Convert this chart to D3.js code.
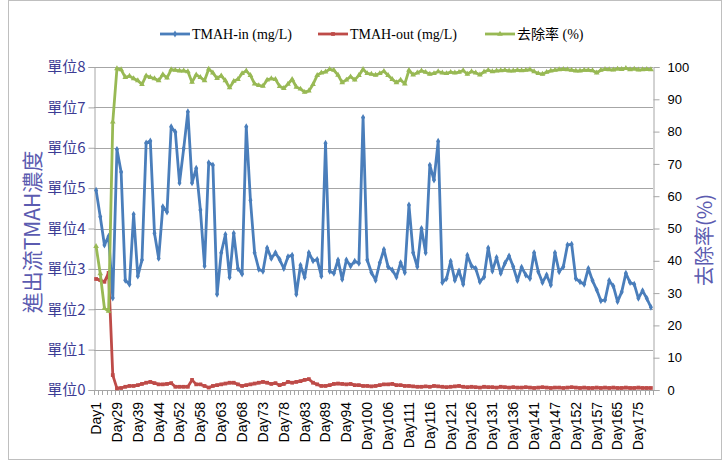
<!DOCTYPE html>
<html>
<head>
<meta charset="utf-8">
<script src="https://cdn.jsdelivr.net/npm/d3@7"></script>
<style>
  body { margin: 0; background: #fff; }
</style>
</head>
<body>
<div id="chart"></div>
<script>
const width = 722;
const height = 460;
const margin = { top: 67, right: 69, bottom: 70, left: 94 };

// day numbers for each sample (only every 5th is labelled on the axis)
const dayNums = [
  1, 7, 14, 21, 27, 29, 31, 33, 35, 37, 39, 40, 41, 42, 43, 44, 46, 48, 49, 50,
  52, 53, 55, 56, 57, 58, 59, 60, 61, 62, 63, 64, 65, 66, 67, 68, 69, 70, 71, 72,
  73, 74, 75, 76, 77, 78, 79, 80, 81, 82, 83, 84, 86, 87, 88, 89, 90, 91, 92, 93,
  94, 95, 97, 98, 99, 100, 101, 102, 104, 105, 106, 107, 108, 109, 110, 111, 112, 113, 114, 115,
  116, 117, 118, 119, 120, 121, 122, 123, 124, 125, 126, 127, 128, 129, 130, 131, 132, 133, 134, 135,
  136, 137, 138, 139, 140, 141, 142, 144, 145, 146, 147, 148, 149, 150, 151, 152, 153, 154, 155, 156,
  157, 159, 161, 162, 164, 165, 167, 169, 171, 173, 175, 176, 177, 178
];
const days = dayNums.map(d => "Day" + d);

// TMAH-in (mg/L)
const tmahIn = [
  4.95, 4.29, 3.59, 3.81, 2.28, 5.96, 5.40, 2.72, 2.62, 4.35, 2.82, 3.22, 6.12, 6.17, 3.88, 3.26, 4.54, 4.41, 6.52, 6.39,
  5.13, 5.98, 6.89, 5.13, 5.49, 4.46, 3.07, 5.63, 5.57, 2.37, 3.40, 3.85, 2.79, 3.88, 3.01, 2.87, 6.52, 4.70, 3.40, 2.99,
  2.94, 3.52, 3.26, 3.40, 3.23, 3.01, 3.30, 3.34, 2.37, 3.09, 2.79, 3.40, 3.20, 3.23, 2.82, 6.11, 2.94, 2.89, 3.22, 2.74,
  3.22, 3.07, 3.19, 3.14, 6.75, 3.22, 2.91, 2.72, 3.15, 3.48, 3.05, 2.97, 2.80, 3.15, 2.91, 4.58, 3.40, 3.05, 4.00, 3.40,
  5.57, 5.20, 6.16, 2.66, 2.76, 3.19, 2.72, 2.95, 2.62, 3.34, 3.07, 3.01, 2.68, 2.80, 3.52, 2.95, 3.28, 2.89, 3.14, 3.32,
  3.05, 2.71, 3.04, 2.85, 2.76, 3.40, 2.93, 2.66, 2.85, 2.60, 3.40, 2.93, 3.05, 3.59, 3.61, 2.76, 2.68, 2.62, 3.01, 2.71,
  2.48, 2.21, 2.23, 2.71, 2.57, 2.19, 2.43, 2.89, 2.66, 2.62, 2.27, 2.46, 2.27, 2.05
];

// TMAH-out (mg/L)
const tmahOut = [
  2.75, 2.72, 2.68, 2.90, 0.37, 0.04, 0.05, 0.08, 0.10, 0.10, 0.12, 0.15, 0.18, 0.20, 0.17, 0.14, 0.14, 0.15, 0.17, 0.08,
  0.08, 0.08, 0.08, 0.25, 0.14, 0.14, 0.10, 0.06, 0.10, 0.12, 0.14, 0.16, 0.18, 0.18, 0.14, 0.10, 0.12, 0.14, 0.16, 0.18,
  0.20, 0.18, 0.15, 0.17, 0.12, 0.15, 0.20, 0.18, 0.20, 0.22, 0.25, 0.27, 0.18, 0.14, 0.10, 0.10, 0.12, 0.15, 0.16, 0.15,
  0.14, 0.15, 0.12, 0.12, 0.10, 0.10, 0.09, 0.10, 0.12, 0.14, 0.14, 0.15, 0.12, 0.12, 0.10, 0.10, 0.09, 0.08, 0.08, 0.09,
  0.08, 0.10, 0.09, 0.08, 0.07, 0.08, 0.09, 0.10, 0.08, 0.07, 0.08, 0.07, 0.06, 0.08, 0.07, 0.07, 0.06, 0.08, 0.07, 0.06,
  0.07, 0.06, 0.06, 0.07, 0.06, 0.05, 0.06, 0.07, 0.06, 0.05, 0.06, 0.06, 0.05, 0.06, 0.07, 0.06, 0.05, 0.06, 0.05, 0.05,
  0.06, 0.05, 0.06, 0.05, 0.06, 0.05, 0.05, 0.06, 0.05, 0.05, 0.06, 0.05, 0.05, 0.05
];

// 去除率 (%)
const removal = [
  44.5, 36.0, 25.3, 24.4, 83.0, 99.5, 99.2, 96.8, 97.2, 96.4, 95.8, 94.6, 97.3, 96.8, 96.4, 95.8, 97.7, 96.6, 99.2, 99.0,
  98.8, 98.8, 98.6, 95.3, 97.6, 96.8, 95.8, 99.4, 98.2, 96.5, 97.3, 95.8, 93.6, 95.6, 96.2, 98.0, 98.8, 97.4, 94.8, 94.3,
  94.1, 96.0, 96.4, 96.2, 94.0, 93.4, 94.7, 96.2, 93.8, 93.2, 92.2, 92.6, 94.6, 97.4, 98.2, 98.5, 99.3, 99.0, 97.5, 95.2,
  96.0, 97.0, 96.0, 97.4, 99.3, 98.0, 97.8, 97.5, 98.0, 98.7, 97.4, 96.2, 95.2, 96.0, 94.8, 99.0, 97.6, 98.2, 98.8, 98.4,
  97.8, 98.0, 98.6, 98.2, 98.0, 98.4, 98.2, 98.4, 98.9, 97.8, 98.6, 98.2, 97.6, 98.5, 99.0, 98.6, 98.8, 98.9, 99.0, 98.8,
  98.8, 99.0, 98.9, 99.0, 99.2, 98.6, 98.0, 97.8, 98.4, 98.8, 99.0, 99.2, 99.3, 99.2, 99.0, 98.8, 98.8, 99.0, 99.0, 98.9,
  98.2, 99.0, 99.3, 99.2, 99.1, 99.4, 99.3, 99.6, 99.2, 99.4, 99.1, 99.2, 99.3, 99.2
];

const leftTicks = [0, 1, 2, 3, 4, 5, 6, 7, 8];
const rightTicks = [0, 10, 20, 30, 40, 50, 60, 70, 80, 90, 100];

const colors = { in: "#4a7ebb", out: "#be4b48", rate: "#98b954" };

const svg = d3.select("#chart").append("svg")
  .attr("width", width)
  .attr("height", height);

svg.append("rect")
  .attr("x", 8.5).attr("y", 0.5)
  .attr("width", width - 9).attr("height", height - 1)
  .attr("fill", "#fff")
  .attr("stroke", "#bfbfbf");

const x = d3.scaleBand()
  .domain(days)
  .range([margin.left, width - margin.right])
  .padding(0);

const yL = d3.scaleLinear().domain([0, 8]).range([height - margin.bottom, margin.top]);
const yR = d3.scaleLinear().domain([0, 100]).range([height - margin.bottom, margin.top]);
const cx = d => x(d) + x.bandwidth() / 2;

// gridlines
svg.append("g")
  .selectAll("line")
  .data(leftTicks.slice(1))
  .join("line")
  .attr("x1", margin.left).attr("x2", width - margin.right)
  .attr("y1", d => Math.round(yL(d)) + 0.5).attr("y2", d => Math.round(yL(d)) + 0.5)
  .attr("stroke", "#a6a6a6");

// left axis
const gL = svg.append("g")
  .attr("transform", `translate(${margin.left + 0.5},0)`)
  .call(d3.axisLeft(yL).tickValues(leftTicks).tickFormat(d => "單位" + d).tickSize(6).tickPadding(3));
gL.select(".domain").attr("stroke", "#a6a6a6");
gL.selectAll(".tick line").attr("stroke", "#a6a6a6");
gL.selectAll(".tick text")
  .attr("fill", "#3c3c94")
  .style("font-family", "'Noto Sans CJK TC', sans-serif")
  .style("font-size", "15px");

// right axis
const gR = svg.append("g")
  .attr("transform", `translate(${width - margin.right + 0.5},0)`)
  .call(d3.axisRight(yR).tickValues(rightTicks).tickSize(6).tickPadding(8));
gR.select(".domain").attr("stroke", "#a6a6a6");
gR.selectAll(".tick line").attr("stroke", "#a6a6a6");
gR.selectAll(".tick text")
  .attr("fill", "#000")
  .style("font-family", "'Liberation Sans', Arial, sans-serif")
  .style("font-size", "13px");

// x axis: ticks between categories, labels on every 5th
const xBase = height - margin.bottom;
svg.append("g")
  .selectAll("line")
  .data(days.concat([null]))
  .join("line")
  .attr("x1", d => Math.round(d === null ? width - margin.right : x(d)) + 0.5)
  .attr("x2", d => Math.round(d === null ? width - margin.right : x(d)) + 0.5)
  .attr("y1", xBase).attr("y2", xBase + 5)
  .attr("stroke", "#a6a6a6");
svg.append("line")
  .attr("x1", margin.left).attr("x2", width - margin.right)
  .attr("y1", xBase + 0.5).attr("y2", xBase + 0.5)
  .attr("stroke", "#a6a6a6");

const gX = svg.append("g")
  .attr("transform", `translate(0,${xBase})`)
  .call(d3.axisBottom(x).tickValues(days.filter((d, i) => i % 5 === 0)).tickSize(0).tickPadding(0));
gX.select(".domain").remove();
gX.selectAll(".tick text")
  .attr("transform", "rotate(-90)")
  .attr("x", -12)
  .attr("y", 0)
  .attr("dy", "0.35em")
  .attr("text-anchor", "end")
  .attr("fill", "#000")
  .style("font-family", "'Liberation Sans', Arial, sans-serif")
  .style("font-size", "14px");

// series
function drawSeries(values, scale, color, symbol) {
  const line = d3.line()
    .x((d, i) => cx(days[i]))
    .y(d => scale(d));
  svg.append("path")
    .datum(values)
    .attr("fill", "none")
    .attr("stroke", color)
    .attr("stroke-width", 2.8)
    .attr("stroke-linejoin", "round")
    .attr("d", line);
  svg.append("g")
    .selectAll("path")
    .data(values)
    .join("path")
    .attr("transform", (d, i) => `translate(${cx(days[i])},${scale(d)})`)
    .attr("d", d3.symbol().type(symbol).size(14))
    .attr("fill", color);
}
drawSeries(tmahIn, yL, colors.in, d3.symbolDiamond);
drawSeries(tmahOut, yL, colors.out, d3.symbolSquare);
drawSeries(removal, yR, colors.rate, d3.symbolTriangle);

// axis titles
svg.append("text")
  .attr("transform", `translate(40,232) rotate(-90)`)
  .attr("text-anchor", "middle")
  .attr("fill", "#5b5bb0")
  .style("font-family", "'Noto Sans CJK TC', sans-serif")
  .style("font-size", "21px")
  .text("進出流TMAH濃度");

svg.append("text")
  .attr("transform", `translate(712,240) rotate(-90)`)
  .attr("text-anchor", "middle")
  .attr("fill", "#5b5bb0")
  .style("font-family", "'Noto Sans CJK TC', sans-serif")
  .style("font-size", "20px")
  .text("去除率(%)");

// legend
const legend = [
  { name: "TMAH-in (mg/L)", color: colors.in, x: 160, symbol: d3.symbolDiamond },
  { name: "TMAH-out (mg/L)", color: colors.out, x: 318, symbol: d3.symbolSquare },
  { name: "去除率 (%)", color: colors.rate, x: 485, symbol: d3.symbolTriangle }
];
const lg = svg.append("g").selectAll("g").data(legend).join("g")
  .attr("transform", d => `translate(${d.x},34)`);
lg.append("line")
  .attr("x1", 0).attr("x2", 30)
  .attr("stroke", d => d.color).attr("stroke-width", 2.8);
lg.append("path")
  .attr("transform", "translate(15,0)")
  .attr("d", d => d3.symbol().type(d.symbol).size(14)())
  .attr("fill", d => d.color);
lg.append("text")
  .attr("x", 32)
  .attr("dy", "0.35em")
  .attr("fill", "#000")
  .style("font-family", "'Liberation Serif', 'Noto Sans CJK TC', serif")
  .style("font-size", "14px")
  .text(d => d.name);
</script>
</body>
</html>
